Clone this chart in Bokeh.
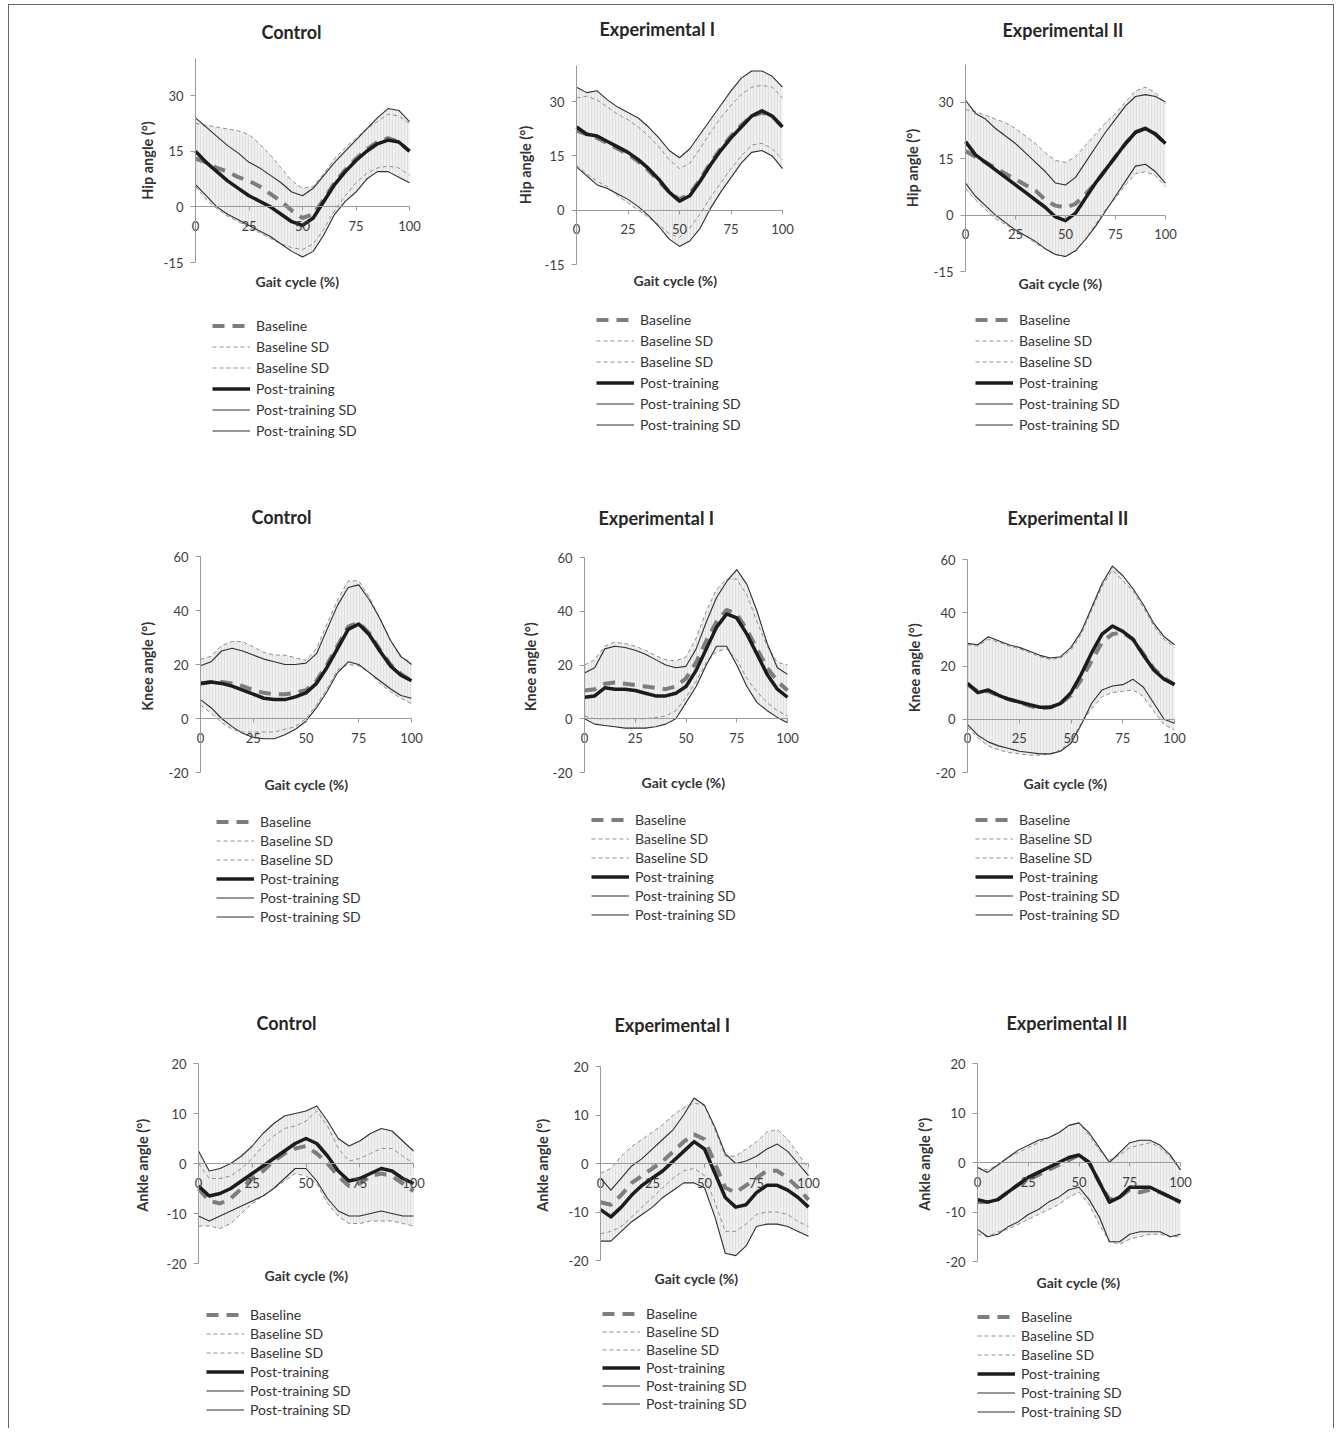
import numpy as np
from bokeh.plotting import figure
from bokeh.models import (Range1d, FixedTicker, Legend, LegendItem, Title, Label,
                          NumeralTickFormatter)
from bokeh.layouts import row, column
from bokeh.embed import file_html
from bokeh.resources import INLINE

FONT = "Lato"

gait_cycle = list(range(0, 101, 5))
x_ticks = [0, 25, 50, 75, 100]
hip_ticks = [-15, 0, 15, 30]
knee_ticks = [-20, 0, 20, 40, 60]
ankle_ticks = [-20, -10, 0, 10, 20]
groups = ["Control", "Experimental I", "Experimental II"]
legend_labels = ["Baseline", "Baseline SD", "Baseline SD", "Post-training",
                 "Post-training SD", "Post-training SD"]
x_label = "Gait cycle (%)"

# ---------------- HIP ----------------
hip_control_baseline = [13, 12, 10.5, 9.5, 8, 7, 5.5, 3.5, 1.5, -1, -3, -2, 2, 6.5, 10, 13, 15.5, 17.5, 18.5, 17.5, 15]
hip_control_baseline_sd_hi = [22.5, 22, 21.5, 21, 20.5, 19.5, 17, 14, 10.5, 7, 5, 5.5, 9, 13, 16, 18.5, 21, 23, 25, 24.5, 22.5]
hip_control_baseline_sd_lo = [5.5, 2, -0.5, -2.5, -4, -5.5, -7, -8.5, -10, -11, -11.5, -10, -6, -1, 3, 6.5, 9, 10.5, 11, 10.5, 8.5]
hip_control_post = [15, 12, 9.5, 7, 5, 3, 1.5, 0, -2, -4, -5, -3, 1.5, 6, 9.5, 12.5, 15, 17, 18, 17.5, 15]
hip_control_post_sd_hi = [24, 21.5, 19, 16.5, 14.5, 12, 10.5, 8.5, 6.5, 4, 3, 5, 8.5, 12, 15, 18, 21, 24, 26.5, 26, 23]
hip_control_post_sd_lo = [6, 3, 0, -2, -3.5, -5, -6.5, -8, -10, -12, -13.5, -12, -7.5, -2, 1.5, 4, 7.5, 9.5, 9.5, 8, 6.5]

hip_exp1_baseline = [22, 21, 20, 18.5, 17, 15.5, 13.5, 11, 8, 5, 3, 4.5, 8.5, 13, 17, 20.5, 23.5, 26, 27, 26, 23]
hip_exp1_baseline_sd_hi = [31, 31.5, 30.5, 28.5, 26.5, 25, 23, 20.5, 17.5, 14, 11.5, 13, 17, 21.5, 25.5, 29, 32, 34, 34.5, 34, 31]
hip_exp1_baseline_sd_lo = [12.5, 10, 8, 6.5, 4, 2, 0, -2, -4, -6.5, -7.5, -5, -1, 3.5, 7.5, 11.5, 15, 18, 18.5, 17, 14]
hip_exp1_post = [23, 21, 20.5, 19, 17.5, 16, 14, 11.5, 8.5, 5, 2.5, 4, 8, 12.5, 16.5, 20, 23, 26, 27.5, 26, 23]
hip_exp1_post_sd_hi = [34, 32.5, 33, 30.5, 28.5, 27, 25.5, 23, 20, 16.5, 14.5, 17, 21, 25, 29, 33, 36.5, 38.5, 38.5, 37, 34]
hip_exp1_post_sd_lo = [12, 9.5, 7, 6, 4.5, 3, 1, -1.5, -4.5, -8, -10, -8.5, -5, 0.5, 5, 9, 13, 16, 16.5, 15, 11.5]

hip_exp2_baseline = [17, 15.5, 14, 12.5, 11, 9.5, 8, 6.5, 4, 2.5, 2, 3, 5.5, 8.5, 12, 15.5, 19, 22, 23, 21.5, 19]
hip_exp2_baseline_sd_hi = [28, 27.5, 26.5, 25.5, 24.5, 23, 21, 19, 16.5, 14.5, 14, 15.5, 18.5, 21.5, 24.5, 27, 30, 33, 34, 32.5, 29.5]
hip_exp2_baseline_sd_lo = [7, 4, 1.5, -1, -2.5, -4, -5.5, -7.5, -9, -10.5, -11, -9.5, -6.5, -2.5, 1.5, 4.5, 8, 11, 11.5, 10.5, 7.5]
hip_exp2_post = [19.5, 16, 14, 12, 10, 8, 6, 4, 2, -0.5, -1.5, 0.5, 4.5, 8.5, 12, 15.5, 19, 22, 23, 21.5, 19]
hip_exp2_post_sd_hi = [30.5, 27, 25.5, 23, 21, 19, 16.5, 14, 11.5, 8.5, 8, 10, 14, 18, 22, 25.5, 29, 31.5, 32, 31.5, 30]
hip_exp2_post_sd_lo = [8.5, 5, 2.5, 0, -2, -4, -5.5, -7, -9, -10.5, -11, -9.5, -6.5, -3, 1, 5, 9, 13, 13.5, 11.5, 8.5]

# ---------------- KNEE ----------------
knee_control_baseline = [13, 13.5, 13.5, 13, 12, 10.5, 9.5, 9, 9, 9.5, 10.5, 14, 20, 27, 34, 35.5, 31.5, 25.5, 20, 16.5, 14]
knee_control_baseline_sd_hi = [22, 23, 27, 28.5, 28.5, 26.5, 24.5, 23.5, 23.5, 22.5, 21.5, 26, 35, 44, 51, 51, 45, 37, 29, 22.5, 21]
knee_control_baseline_sd_lo = [5, 2, -1.5, -4, -5, -5, -5, -5, -4, -3, 0, 5, 11, 18, 20, 19.5, 17, 13, 10, 7.5, 5.5]
knee_control_post = [13, 13.5, 13, 12, 10.5, 9, 7.5, 7, 7, 8, 9.5, 13, 19, 26, 33, 35, 31, 25, 19.5, 16, 14]
knee_control_post_sd_hi = [19.5, 21, 25, 26, 25, 23.5, 22, 21, 20, 20, 20.5, 24, 33, 42, 48.5, 49.5, 44, 37, 29, 23, 20]
knee_control_post_sd_lo = [7, 4, 0, -3, -5.5, -7, -7.5, -7.5, -6, -4, -1, 4, 10, 17, 21, 20, 17, 14, 11, 8.5, 7.5]

knee_exp1_baseline = [10.5, 11, 13, 13.5, 13, 12.5, 12, 11.5, 11, 12, 15, 21, 29, 36, 40.5, 39, 33, 26, 19, 14, 10.5]
knee_exp1_baseline_sd_hi = [20, 22, 27, 28.5, 28, 27, 25.5, 23.5, 22, 21.5, 23, 30, 40, 48, 52, 52, 46, 36, 27, 21, 20]
knee_exp1_baseline_sd_lo = [1, 0, 0, 0, 0, 0, 0, 0.5, 1, 3, 8, 14, 21, 25, 26, 22, 15, 10, 6, 3, 1]
knee_exp1_post = [8, 8.5, 11.5, 11, 11, 10.5, 9.5, 8.5, 8.5, 9.5, 12, 18, 26, 34, 39, 37.5, 31.5, 24, 16.5, 11, 8]
knee_exp1_post_sd_hi = [17, 19, 26, 27, 26.5, 25.5, 24, 22, 20, 19, 19.5, 26, 36, 45, 51, 55.5, 50, 40, 28, 19, 16.5]
knee_exp1_post_sd_lo = [0, -2, -2.5, -3, -3.5, -3.5, -3.5, -3, -2, 0, 6, 12, 20, 27, 27, 20, 12, 6, 3, 0.5, -1.5]

knee_exp2_baseline = [13, 10.5, 10.5, 9, 7.5, 6.5, 5, 4, 4.5, 6, 9, 15, 22, 29, 32, 32.5, 30, 24.5, 19, 15.5, 13]
knee_exp2_baseline_sd_hi = [28, 27.5, 30, 29, 27.5, 26.5, 25, 23.5, 22.5, 23, 26, 32, 41, 50, 56, 52, 48, 42, 35, 30, 27]
knee_exp2_baseline_sd_lo = [-3, -7, -10, -11.5, -12.5, -13, -13.5, -13.5, -13, -11.5, -8, -1.5, 4, 8.5, 10, 10.5, 11, 8.5, 3, -2, -4]
knee_exp2_post = [13.5, 10, 11, 9, 7.5, 6.5, 5.5, 4.5, 4.5, 6, 10, 17, 25, 32, 35, 33, 30, 24, 18.5, 15, 13]
knee_exp2_post_sd_hi = [28.5, 28, 31, 29.5, 28, 27, 25.5, 24, 23, 23.5, 27, 33, 42, 51, 57.5, 54, 49, 43, 36, 31, 28]
knee_exp2_post_sd_lo = [-2, -6, -8.5, -10, -11, -12, -12.5, -13, -13, -12, -9, -2, 6, 11, 12.5, 13, 15, 12, 6, 0, -1.5]

# ---------------- ANKLE ----------------
ankle_control_baseline = [-5, -7.5, -8, -7, -5, -3, -1.5, 0.5, 2, 3, 3.5, 2, 0, -2.5, -4.5, -4, -2.5, -2, -2.5, -4, -5.5]
ankle_control_baseline_sd_hi = [0, -3, -3, -2.5, -1, 1, 3.5, 5.5, 7, 7.5, 8.5, 10.5, 7.5, 3, 0.5, 1, 2, 3, 3, 1.5, 0]
ankle_control_baseline_sd_lo = [-12.5, -12.5, -13, -12, -10, -8, -6.5, -5, -3.5, -2, -2.5, -4, -8, -10.5, -12, -12, -11.5, -11.5, -11.5, -12, -12.5]
ankle_control_post = [-4.5, -6.5, -6, -5, -3.5, -2, -0.5, 1, 2.5, 4, 5, 4, 1.5, -1.5, -3.5, -3, -2, -1, -1.5, -3, -4]
ankle_control_post_sd_hi = [2.5, -1.5, -1, 0, 1.5, 3.5, 6, 8, 9.5, 10, 10.5, 11.5, 8.5, 5, 3.5, 4.5, 6, 7, 6.5, 4.5, 2.5]
ankle_control_post_sd_lo = [-10.5, -11.5, -10.5, -9.5, -8.5, -7.5, -6.5, -5, -3, -1, -1, -3.5, -7, -9.5, -10.5, -10.5, -10, -9.5, -10, -10.5, -10.5]

ankle_exp1_baseline = [-8, -8.5, -6.5, -4, -2.5, -1, 0.5, 2.5, 4.5, 6, 5, 0, -5, -6, -4.5, -3, -1.5, -1.5, -3, -5, -7.5]
ankle_exp1_baseline_sd_hi = [-2, -1, 1.5, 3.5, 5, 6.5, 8, 10, 11.5, 12.5, 12, 7, 1.5, 1.5, 3, 4.5, 6.5, 7, 5, 2, -1]
ankle_exp1_baseline_sd_lo = [-14.5, -14, -13, -11, -9, -7, -5, -3, -1.5, -1, -2.5, -8, -14, -14, -12.5, -10.5, -10, -10, -10.5, -12, -13]
ankle_exp1_post = [-9.5, -11, -9, -6.5, -4.5, -3, -1.5, 0.5, 2.5, 4.5, 3, -2, -7, -9, -8.5, -6, -4.5, -4.5, -5.5, -7, -9]
ankle_exp1_post_sd_hi = [-3, -5.5, -3, -0.5, 1, 3, 5, 7, 10, 13.5, 12, 7.5, 2, 0, 0.5, 1.5, 3, 4, 2.5, 0, -2.5]
ankle_exp1_post_sd_lo = [-16, -16, -14, -12, -10.5, -9, -7, -5.5, -4, -4, -5, -11, -18.5, -19, -17, -13, -12.5, -12.5, -13, -14, -15]

ankle_exp2_baseline = [-8, -8, -7.5, -6, -4.5, -3.5, -2.5, -1.5, -0.5, 0.5, 1.5, 0, -4, -7.5, -7, -5.5, -6, -5.5, -6, -7, -8]
ankle_exp2_baseline_sd_hi = [-1, -1.5, -0.5, 1, 2, 3, 4, 5, 6, 7.5, 8, 5.5, 2.5, 0.5, 1.5, 3, 3.5, 4, 3, 1, -1.5]
ankle_exp2_baseline_sd_lo = [-14.5, -15, -14, -13.5, -12.5, -11.5, -10.5, -9.5, -8.5, -7, -6, -8.5, -12.5, -16, -16.5, -15.5, -15, -14.5, -14.5, -15, -15]
ankle_exp2_post = [-7.5, -8, -7.5, -6, -4.5, -3, -2, -1, 0, 1, 1.5, 0, -4, -8, -7, -5, -5, -5, -6, -7, -8]
ankle_exp2_post_sd_hi = [-1, -2, -0.5, 1, 2.5, 3.5, 4.5, 5, 6, 7.5, 8, 6, 3, 0, 2, 4, 4.5, 4.5, 3.5, 1.5, -1.5]
ankle_exp2_post_sd_lo = [-13.5, -15, -14.5, -13, -12, -10.5, -9.5, -8, -7, -5.5, -5, -7.5, -11, -16, -16, -14.5, -14, -14, -14, -15, -14.5]

DATA = {
    ("hip", 0): (hip_control_baseline, hip_control_baseline_sd_hi, hip_control_baseline_sd_lo, hip_control_post, hip_control_post_sd_hi, hip_control_post_sd_lo),
    ("hip", 1): (hip_exp1_baseline, hip_exp1_baseline_sd_hi, hip_exp1_baseline_sd_lo, hip_exp1_post, hip_exp1_post_sd_hi, hip_exp1_post_sd_lo),
    ("hip", 2): (hip_exp2_baseline, hip_exp2_baseline_sd_hi, hip_exp2_baseline_sd_lo, hip_exp2_post, hip_exp2_post_sd_hi, hip_exp2_post_sd_lo),
    ("knee", 0): (knee_control_baseline, knee_control_baseline_sd_hi, knee_control_baseline_sd_lo, knee_control_post, knee_control_post_sd_hi, knee_control_post_sd_lo),
    ("knee", 1): (knee_exp1_baseline, knee_exp1_baseline_sd_hi, knee_exp1_baseline_sd_lo, knee_exp1_post, knee_exp1_post_sd_hi, knee_exp1_post_sd_lo),
    ("knee", 2): (knee_exp2_baseline, knee_exp2_baseline_sd_hi, knee_exp2_baseline_sd_lo, knee_exp2_post, knee_exp2_post_sd_hi, knee_exp2_post_sd_lo),
    ("ankle", 0): (ankle_control_baseline, ankle_control_baseline_sd_hi, ankle_control_baseline_sd_lo, ankle_control_post, ankle_control_post_sd_hi, ankle_control_post_sd_lo),
    ("ankle", 1): (ankle_exp1_baseline, ankle_exp1_baseline_sd_hi, ankle_exp1_baseline_sd_lo, ankle_exp1_post, ankle_exp1_post_sd_hi, ankle_exp1_post_sd_lo),
    ("ankle", 2): (ankle_exp2_baseline, ankle_exp2_baseline_sd_hi, ankle_exp2_baseline_sd_lo, ankle_exp2_post, ankle_exp2_post_sd_hi, ankle_exp2_post_sd_lo),
}

JOINTS = {
    "hip": dict(ylabel="Hip angle (°)", yr=(-15, 40), ticks=hip_ticks),
    "knee": dict(ylabel="Knee  angle (°)", yr=(-20, 60), ticks=knee_ticks),
    "ankle": dict(ylabel="Ankle  angle (°)", yr=(-20, 20), ticks=ankle_ticks),
}

CELL_W = [442, 440, 442]
CELL_H = {"hip": 460, "knee": 500, "ankle": 463}
ITEM_H = 17
LPX = 70          # invisible frame space left of the y axis (axis is drawn inside the frame)
RPX = 16          # invisible frame space right of x = 100
TPX = 10          # invisible frame space above the top of the y axis

# per panel: axis x offset, data width, axis top offset, axis height,
# title left offset, title gap (center above axis top), xlabel left offset, xlabel gap,
# legend dx, legend first-item gap (center below axis bottom), legend row step, ylabel standoff
GEOM = {
    ("hip", 0): (186, 214, 53, 204, 66, 26, 60, 20, 17, 64, 21, 5),
    ("hip", 1): (125, 206, 60, 199, 23, 36, 57, 17, 20, 56, 21, 8),
    ("hip", 2): (74, 200, 59, 207, 37, 34, 53, 13, 10, 48, 21, 10),
    ("knee", 0): (191, 211, 91, 216, 51, 39, 64, 13, 16, 49, 19, 10),
    ("knee", 1): (133, 203, 92, 215, 14, 39, 57, 11, 7, 47, 19, 11),
    ("knee", 2): (76, 207, 94, 213, 40, 41, 56, 12, 8, 47, 19, 10),
    ("ankle", 0): (189, 215, 98, 200, 58, 40, 66, 13, 8, 51, 19, 13),
    ("ankle", 1): (149, 208, 101, 194, 14, 41, 54, 19, 2, 54, 18, 15),
    ("ankle", 2): (86, 203, 98, 198, 29, 40, 59, 22, 0, 55, 19, 10),
}

STY_BASE = dict(line_color="#7d7d7d", line_width=4, line_dash="12 8")
STY_BASE_SD = dict(line_color="#8f8f8f", line_width=1, line_dash="4 3")
STY_POST = dict(line_color="#1c1c1c", line_width=3.5, line_join="round")
STY_POST_SD = dict(line_color="#2e2e2e", line_width=1.1, line_join="round")


def make_cell(joint, gi):
    (fl, fw, ft, fh, t_off, t_gap, xl_off, xl_gap, lg_dx, lg_first, lg_step, yl_so) = GEOM[(joint, gi)]
    cw = CELL_W[gi]
    ch = CELL_H[joint]
    fr = cw - fl - fw
    cfg = JOINTS[joint]
    y0, y1 = cfg["yr"]
    base, base_hi, base_lo, post, post_hi, post_lo = DATA[(joint, gi)]

    pb = max(2 * xl_gap, xl_gap + 12)      # space below the axis bottom (inside frame)
    ph = ft + fh + pb
    upp = (y1 - y0) / fh                   # data units per pixel (y)
    x_lo = -100.0 * LPX / fw
    x_hi = 100.0 + 100.0 * RPX / fw
    p = figure(width=cw, height=ph, x_range=Range1d(x_lo, x_hi),
               y_range=Range1d(y0 - pb * upp, y1 + TPX * upp),
               output_backend="svg", toolbar_location=None, title=None,
               min_border_left=fl - LPX, min_border_right=fr - RPX,
               min_border_top=ft - TPX, min_border_bottom=0)
    p.outline_line_color = None
    p.grid.visible = False

    # spacer (innermost) + real title above it
    p.add_layout(Title(text=" ", text_font_size="1px", standoff=max(t_gap - 14 - TPX, 0)), "above")
    p.add_layout(Title(text=groups[gi], align="left", vertical_align="middle",
                       text_font=FONT, text_font_size="18px", text_font_style="bold",
                       text_color="#262626", standoff=0, offset=t_off + LPX), "above")

    upper = np.maximum(base_hi, post_hi)
    lower = np.minimum(base_lo, post_lo)
    p.varea(x=gait_cycle, y1=lower, y2=upper, fill_color="#f0f0f0",
            hatch_pattern="vertical_line", hatch_color="#d8d8d8",
            hatch_scale=3, hatch_weight=0.7)

    p.line(gait_cycle, base_hi, **STY_BASE_SD)
    p.line(gait_cycle, base_lo, **STY_BASE_SD)
    p.line(gait_cycle, post_hi, **STY_POST_SD)
    p.line(gait_cycle, post_lo, **STY_POST_SD)
    p.line(gait_cycle, base, **STY_BASE)
    p.line(gait_cycle, post, **STY_POST)

    xa = p.xaxis[0]
    xa.fixed_location = 0
    xa.bounds = (0, 100)
    xa.ticker = FixedTicker(ticks=x_ticks)
    xa.axis_line_color = "#9a9a9a"
    xa.major_tick_line_color = "#9a9a9a"
    xa.major_tick_out = 4
    xa.major_tick_in = 0
    xa.minor_tick_out = 0
    xa.minor_tick_in = 0
    xa.major_label_standoff = 10
    xa.major_label_text_font = FONT
    xa.major_label_text_font_size = "13px"
    xa.major_label_text_color = "#404040"

    ya = p.yaxis[0]
    ya.fixed_location = 0
    ya.bounds = (y0, y1)
    ya.ticker = FixedTicker(ticks=cfg["ticks"])
    ya.formatter = NumeralTickFormatter(format="0")
    ya.axis_line_color = "#9a9a9a"
    ya.major_tick_line_color = "#9a9a9a"
    ya.major_tick_out = 5
    ya.major_tick_in = 0
    ya.minor_tick_out = 0
    ya.minor_tick_in = 0
    ya.major_label_standoff = 7
    ya.major_label_text_font = FONT
    ya.major_label_text_font_size = "13px"
    ya.major_label_text_color = "#404040"
    ya.axis_label = cfg["ylabel"]
    ya.axis_label_text_font = FONT
    ya.axis_label_text_font_size = "14.5px"
    ya.axis_label_text_font_style = "bold"
    ya.axis_label_text_color = "#333333"
    ya.axis_label_standoff = yl_so

    p.add_layout(Label(x=0, y=y0, x_offset=xl_off, y_offset=-(xl_gap - 1), text=x_label,
                       text_align="left", text_baseline="middle", text_font=FONT,
                       text_font_size="14px", text_font_style="bold",
                       text_color="#333333"))

    # legend panel (separate figure below the chart)
    lh = ch - ph
    lt = lg_first - ITEM_H / 2 - pb
    sp = lg_step - ITEM_H
    leg_h = 6 * ITEM_H + 5 * sp
    lp = figure(width=cw, height=lh, x_range=Range1d(0, 1), y_range=Range1d(0, 1),
                output_backend="svg", toolbar_location=None,
                x_axis_type=None, y_axis_type=None,
                min_border_left=fl - LPX, min_border_right=fr - RPX,
                min_border_top=0, min_border_bottom=0)
    lp.outline_line_color = None
    lp.grid.visible = False
    styles = [STY_BASE, STY_BASE_SD, STY_BASE_SD, STY_POST, STY_POST_SD, STY_POST_SD]
    rends = [lp.line(np.array([np.nan]), np.array([np.nan]), **s) for s in styles]
    items = [LegendItem(label=lab, renderers=[r]) for lab, r in zip(legend_labels, rends)]
    leg = Legend(items=items, location=(lg_dx + LPX, int(round(lh - lt - leg_h))),
                 orientation="vertical",
                 border_line_color=None, background_fill_alpha=0,
                 padding=0, margin=0, spacing=sp,
                 label_height=ITEM_H, glyph_height=ITEM_H, glyph_width=38,
                 label_standoff=6, label_text_font=FONT,
                 label_text_font_size="14px", label_text_color="#333333")
    lp.add_layout(leg, "center")
    return column(p, lp, spacing=0)


rows = []
for joint in ["hip", "knee", "ankle"]:
    rows.append(row(*[make_cell(joint, gi) for gi in range(3)], spacing=0))

layout = column(*rows, spacing=0, margin=(4, 0, 0, 8),
                styles={"border-left": "1px solid #666", "border-top": "1px solid #666",
                        "border-right": "1px solid #666"})

open("out.html", "w").write(file_html(layout, INLINE))
